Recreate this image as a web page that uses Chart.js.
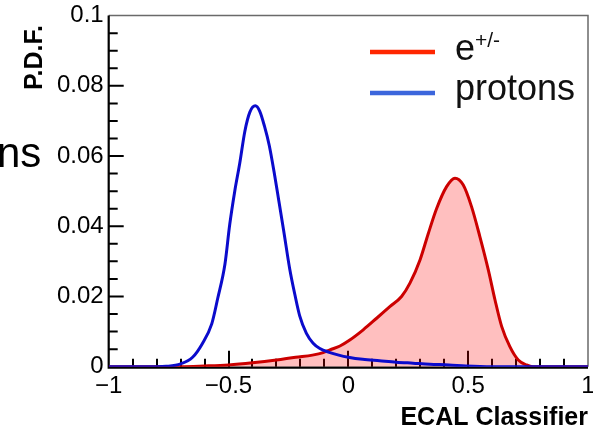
<!DOCTYPE html>
<html>
<head>
<meta charset="utf-8">
<script src="https://cdn.jsdelivr.net/npm/chart.js@4.4.1/dist/chart.umd.min.js"></script>
<style>
  html, body { margin: 0; padding: 0; background: #fff; }
  #wrap { position: relative; width: 593px; height: 427px; }
</style>
</head>
<body>
<div id="wrap"><canvas id="c" width="593" height="427"></canvas></div>
<script>
// ECAL classifier response, normalised per species (P.D.F.)
const electronX = [-1, -0.7, -0.6, -0.5, -0.4, -0.3, -0.22, -0.15, -0.105, -0.077, -0.035, 0.006, 0.062, 0.118,
  0.173, 0.222, 0.257, 0.299, 0.333, 0.368, 0.41, 0.445, 0.479, 0.514, 0.549, 0.584, 0.612, 0.64, 0.674,
  0.709, 0.744, 0.77, 1];
const electronPdf = [0, 0, 0.0002, 0.0005, 0.0011, 0.0019, 0.0027, 0.0033, 0.0040, 0.0048, 0.0059, 0.0076, 0.0105,
  0.0138, 0.0171, 0.0200, 0.0238, 0.0304, 0.0378, 0.0450, 0.0513, 0.0537, 0.0518, 0.0456, 0.0370, 0.0276,
  0.0190, 0.0114, 0.0057, 0.0019, 0.0005, 0, 0];

const protonX = [-1, -0.8, -0.76, -0.70, -0.65, -0.61, -0.57, -0.545, -0.515, -0.495, -0.474, -0.453, -0.432, -0.411,
  -0.388, -0.37, -0.35, -0.33, -0.31, -0.29, -0.27, -0.245, -0.223, -0.203, -0.175, -0.147, -0.119, -0.08,
  -0.04, 0, 0.06, 0.13, 0.2, 0.27, 0.34, 0.42, 0.49, 0.6, 1];
const protonPdf = [0, 0, 0.0001, 0.0008, 0.0027, 0.0065, 0.0122, 0.0195, 0.0292, 0.0405, 0.0500, 0.0580, 0.0670,
  0.0725, 0.0743, 0.0728, 0.0685, 0.0630, 0.0555, 0.0472, 0.0388, 0.0280, 0.0205, 0.0145, 0.0095, 0.0067,
  0.0052, 0.0041, 0.0033, 0.0027, 0.0021, 0.0017, 0.0013, 0.0010, 0.0007, 0.0005, 0.0002, 0, 0];

const xTickValues = [-1, -0.5, 0, 0.5, 1];
const xTickLabels = ['\u22121', '\u22120.5', '0', '0.5', '1'];
const yTickValues = [0, 0.02, 0.04, 0.06, 0.08, 0.1];
const yTickLabels = ['0', '0.02', '0.04', '0.06', '0.08', '0.1'];

const seriesNames = ['e', 'protons'];
const seriesSup = ['+/-', ''];
const legendColors = ['#ff2600', '#3c66dc'];

const FONT = "'Liberation Sans', Arial, Helvetica, sans-serif";

// ROOT-style frame: thick left/bottom axes, thin top/right border, inward ticks
const framePlugin = {
  id: 'frame',
  beforeDatasetsDraw(chart) {
    const { ctx, chartArea: a, scales: { x, y } } = chart;
    ctx.save();
    ctx.lineCap = 'butt';
    ctx.strokeStyle = '#6a6a6a';
    ctx.lineWidth = 1.5;
    ctx.beginPath();
    ctx.moveTo(a.left, a.top);
    ctx.lineTo(a.right, a.top);
    ctx.lineTo(a.right, a.bottom);
    ctx.stroke();

    ctx.strokeStyle = '#000';
    ctx.lineWidth = 2.2;
    ctx.beginPath();
    ctx.moveTo(a.left, a.top);
    ctx.lineTo(a.left, a.bottom + 1);
    ctx.lineTo(a.right, a.bottom + 1);
    ctx.stroke();

    ctx.lineWidth = 2;
    ctx.beginPath();
    for (let i = 1; i < 20; i++) {
      const px = Math.round(x.getPixelForValue(-1 + i * 0.1)) + 0.0;
      const len = (i % 5 === 0) ? 16 : 8;
      ctx.moveTo(px, a.bottom);
      ctx.lineTo(px, a.bottom - len);
    }
    for (let j = 1; j < 20; j++) {
      const py = y.getPixelForValue(j * 0.005);
      const len = (j % 4 === 0) ? 15 : 9;
      ctx.moveTo(a.left, py);
      ctx.lineTo(a.left + len, py);
    }
    ctx.stroke();
    ctx.restore();
  },
  afterDraw(chart) {
    const { ctx, chartArea: a } = chart;
    ctx.save();
    ctx.fillStyle = '#000';
    ctx.textBaseline = 'alphabetic';

    // axis titles
    ctx.font = 'bold 25px ' + FONT;
    ctx.textAlign = 'right';
    ctx.fillText('ECAL Classifier', a.right, 425);

    ctx.save();
    ctx.translate(42, 90);
    ctx.rotate(-Math.PI / 2);
    ctx.textAlign = 'left';
    ctx.font = 'bold 25px ' + FONT;
    ctx.fillText('P.D.F.', 0, 0);
    ctx.restore();

    // stray caption fragment at the left edge
    ctx.textAlign = 'left';
    ctx.font = '42px ' + FONT;
    ctx.fillText('ns', -3, 167);

    // legend
    const rows = [52, 93];
    const textY = [60, 100];
    ctx.lineWidth = 4.5;
    for (let k = 0; k < seriesNames.length; k++) {
      ctx.strokeStyle = legendColors[k];
      ctx.beginPath();
      ctx.moveTo(370, rows[k]);
      ctx.lineTo(435, rows[k]);
      ctx.stroke();
      ctx.fillStyle = '#111';
      ctx.font = '36px ' + FONT;
      ctx.fillText(seriesNames[k], 455, textY[k]);
      if (seriesSup[k]) {
        const w = ctx.measureText(seriesNames[k]).width;
        ctx.font = '21px ' + FONT;
        ctx.fillText(seriesSup[k], 455 + w, textY[k] - 13);
      }
    }
    ctx.restore();
  }
};

const toPoints = (xs, ys) => xs.map((v, i) => ({ x: v, y: ys[i] }));

new Chart(document.getElementById('c'), {
  type: 'line',
  data: {
    datasets: [
      {
        label: 'protons',
        data: toPoints(protonX, protonPdf),
        borderColor: '#0b0bcc',
        borderWidth: 3,
        pointRadius: 0,
        fill: false,
        cubicInterpolationMode: 'monotone',
        order: 0
      },
      {
        label: 'e+/-',
        data: toPoints(electronX, electronPdf),
        borderColor: '#cc0000',
        backgroundColor: 'rgba(255,0,0,0.25)',
        borderWidth: 3,
        pointRadius: 0,
        fill: 'origin',
        cubicInterpolationMode: 'monotone',
        order: 1
      }
    ]
  },
  options: {
    responsive: false,
    animation: false,
    events: [],
    devicePixelRatio: 1,
    layout: { padding: { top: 15.6, right: 5, left: 0, bottom: 0 } },
    plugins: { legend: { display: false }, tooltip: { enabled: false } },
    scales: {
      x: {
        type: 'linear',
        min: -1,
        max: 1,
        grid: { display: false, drawTicks: false },
        border: { display: false },
        afterBuildTicks: s => { s.ticks = xTickValues.map(v => ({ value: v })); },
        ticks: {
          callback: (v, i) => xTickLabels[i],
          font: { family: FONT, size: 24 },
          color: '#000',
          padding: 5,
          maxRotation: 0,
          autoSkip: false
        },
        afterFit: s => { s.height = 60.3; s.paddingLeft = 0; s.paddingRight = 0; }
      },
      y: {
        type: 'linear',
        min: 0,
        max: 0.1,
        grid: { display: false, drawTicks: false },
        border: { display: false },
        afterBuildTicks: s => { s.ticks = yTickValues.map(v => ({ value: v })); },
        ticks: {
          callback: (v, i) => yTickLabels[i],
          font: { family: FONT, size: 24 },
          color: '#000',
          padding: 5,
          autoSkip: false
        },
        afterFit: s => { s.width = 108.7; s.paddingTop = 0; s.paddingBottom = 0; }
      }
    }
  },
  plugins: [framePlugin]
});
</script>
</body>
</html>
